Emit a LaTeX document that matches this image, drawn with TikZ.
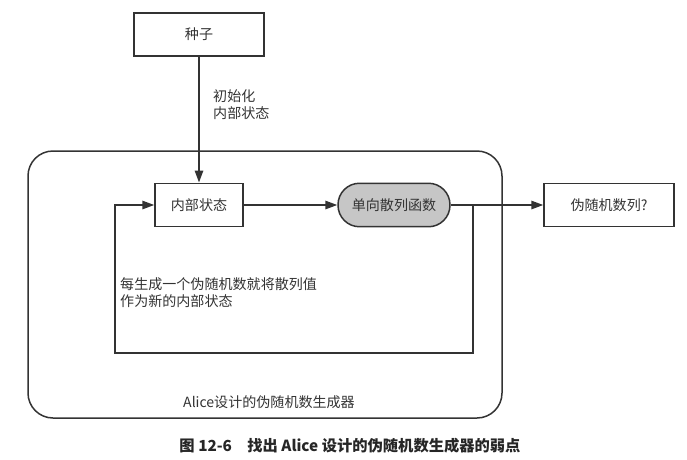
\documentclass[tikz,border=0pt]{standalone}
\usepackage{fontspec}
\setmainfont{Noto Sans CJK SC}
\usetikzlibrary{arrows.meta}

\begin{document}
\begin{tikzpicture}[x=0.02cm,y=-0.02cm,font=\fontsize{8}{9.6}\selectfont,
	ln/.style={draw=black!80,line width=0.3mm},
	arr/.style={ln,-{Triangle[length=2.4mm,width=1.7mm]}}]
	\useasboundingbox (0,0) rectangle (687,460);
	% outer frame
	\draw [ln,rounded corners=0.5cm] (28,151) rectangle (502,418);
	\begin{scope}[every node/.style={ln,text=black!80,minimum height=0.87cm,inner sep=0pt}]
	\node (seed) at (199,34.5) [minimum width=2.6cm] {种子};
	\node (state) at (199,205) [minimum width=1.76cm] {内部状态};
	\node (hash) at (394,205) [minimum width=2.24cm,rounded corners=0.43cm,fill=gray!45] {单向散列函数};
	\node (out) at (609,205) [minimum width=2.6cm] {伪随机数列?};
	\end{scope}
	\coordinate (br) at (473,205);
	\coordinate (dr) at (473,353);
	\coordinate (dl) at (115,353);
	\coordinate (ul) at (115,205);
	\draw [arr] (seed) -- (state);
	\draw [arr] (state) -- (hash);
	\draw [arr] (hash) -- (out);
	\draw [arr] (br) -- (dr) -- (dl) -- (ul) -- (state);
	\node [align=left,anchor=west,text=black!80] (initlbl) at (207,105) {初始化\\内部状态};
	\node [align=left,anchor=west,text=black!80] (fblbl) at (114,293) {每生成一个伪随机数就将散列值\\作为新的内部状态};
	\node [anchor=west,text=black!80] (gen) at (177,402) {Alice设计的伪随机数生成器};
	\node [text=black!85,font=\fontsize{8.7}{10}\selectfont\bfseries] (cap) at (350,446) {图 12-6\quad 找出 Alice 设计的伪随机数生成器的弱点};
\end{tikzpicture}
\end{document}
